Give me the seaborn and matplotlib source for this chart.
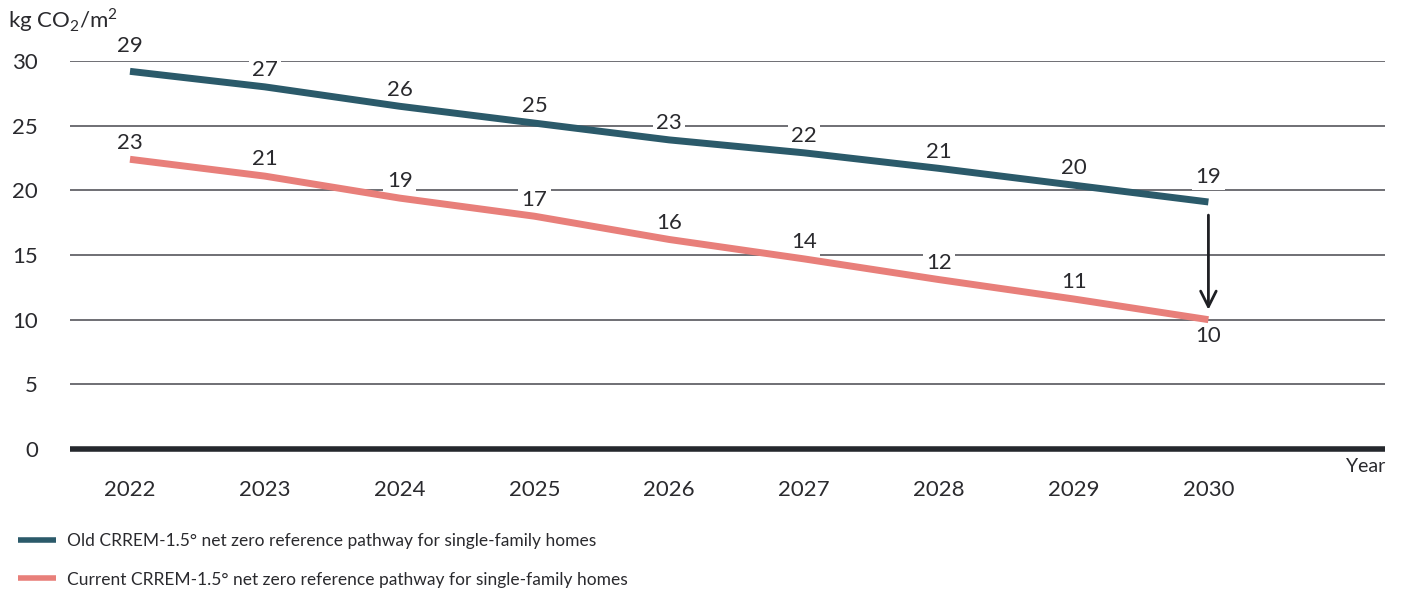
import pandas as pd
import seaborn as sns
import matplotlib.pyplot as plt

# values
years = [2022, 2023, 2024, 2025, 2026, 2027, 2028, 2029, 2030]
old_pathway = [29.2, 28.0, 26.5, 25.2, 23.9, 22.9, 21.7, 20.4, 19.1]
current_pathway = [22.4, 21.1, 19.4, 18.0, 16.2, 14.7, 13.1, 11.6, 10.0]
old_labels = ["29", "27", "26", "25", "23", "22", "21", "20", "19"]
current_labels = ["23", "21", "19", "17", "16", "14", "12", "11", "10"]
y_ticks = [0, 5, 10, 15, 20, 25, 30]

old_name = "Old CRREM-1.5° net zero reference pathway for single-family homes"
current_name = "Current CRREM-1.5° net zero reference pathway for single-family homes"

OLD_COLOR = "#2b5a6a"
CURRENT_COLOR = "#e87f7a"
TEXT_COLOR = "#2a2a2e"

df = pd.concat([
    pd.DataFrame({"year": years, "value": old_pathway, "series": old_name}),
    pd.DataFrame({"year": years, "value": current_pathway, "series": current_name}),
])

sns.set_theme(style="white")
plt.rcParams["font.family"] = ["Lato", "DejaVu Sans"]
plt.rcParams["mathtext.fontset"] = "custom"
plt.rcParams["mathtext.rm"] = "Lato"
plt.rcParams["text.color"] = TEXT_COLOR

fig = plt.figure(figsize=(14.01, 5.91), dpi=100)
ax = fig.add_axes([70 / 1401, 1 - 449 / 591, 1315 / 1401, 388 / 591])

ax.set_ylim(0, 30)
ax.set_xlim(2021.555, 2031.31)
for t in y_ticks[1:]:
    ax.axhline(t, color="#48484e", lw=1.1, zorder=1)
ax.axhline(0, color="#25282d", lw=4, zorder=3, clip_on=False,
           solid_capstyle="butt")

sns.lineplot(data=df, x="year", y="value", hue="series",
             palette={old_name: OLD_COLOR, current_name: CURRENT_COLOR},
             lw=5, ax=ax, legend=False, zorder=4, solid_capstyle="butt")

# value labels sit under the lines but cut through the grid
label_kw = dict(textcoords="offset points", ha="center", va="center",
                fontsize=16, color=TEXT_COLOR, zorder=2, annotation_clip=False,
                bbox=dict(boxstyle="square,pad=0.15", fc="white", ec="none"))
for i, (yr, v, lab) in enumerate(zip(years, old_pathway, old_labels)):
    off = 18 if i in (0, len(years) - 1) else 12
    ax.annotate(lab, (yr, v), xytext=(0, off), **label_kw)
for i, (yr, v, lab) in enumerate(zip(years, current_pathway, current_labels)):
    off = -12 if i == len(years) - 1 else 12
    ax.annotate(lab, (yr, v), xytext=(0, off), **label_kw)

# arrow from old to current 2030 value
ax.annotate("", xy=(years[-1], current_pathway[-1] + 0.55),
            xytext=(years[-1], old_pathway[-1] - 0.8),
            arrowprops=dict(arrowstyle="->", lw=2, color="#1f2024",
                            mutation_scale=28), zorder=6)

ax.set_xticks(years)
ax.set_xticklabels([str(y) for y in years])
ax.set_yticks(y_ticks)
ax.tick_params(axis="x", length=0, pad=22, labelsize=16, labelcolor=TEXT_COLOR)
ax.tick_params(axis="y", length=0, pad=23, labelsize=16, labelcolor=TEXT_COLOR)
for lab in ax.get_yticklabels():
    lab.set_horizontalalignment("right")
ax.set_xlabel("")
ax.set_ylabel("")
sns.despine(ax=ax, left=True, bottom=True)

fig.text(8 / 1401, 1 - 20 / 591, r"kg CO$_2$/m$^2$", fontsize=16,
         ha="left", va="center", color=TEXT_COLOR)
fig.text(1385 / 1401, 1 - 467 / 591, "Year", fontsize=14,
         ha="right", va="center", color=TEXT_COLOR)

handles = [plt.Line2D([], [], color=OLD_COLOR, lw=4, solid_capstyle="butt"),
           plt.Line2D([], [], color=CURRENT_COLOR, lw=4, solid_capstyle="butt")]
fig.legend(handles, [old_name, current_name], loc="upper left",
           bbox_to_anchor=(18 / 1401, 1 - 533 / 591), frameon=False,
           fontsize=12.5, handlelength=2.2, handletextpad=0.6,
           labelspacing=1.3, borderpad=0, borderaxespad=0,
           labelcolor=TEXT_COLOR)

fig.savefig("out.png", dpi=100)
